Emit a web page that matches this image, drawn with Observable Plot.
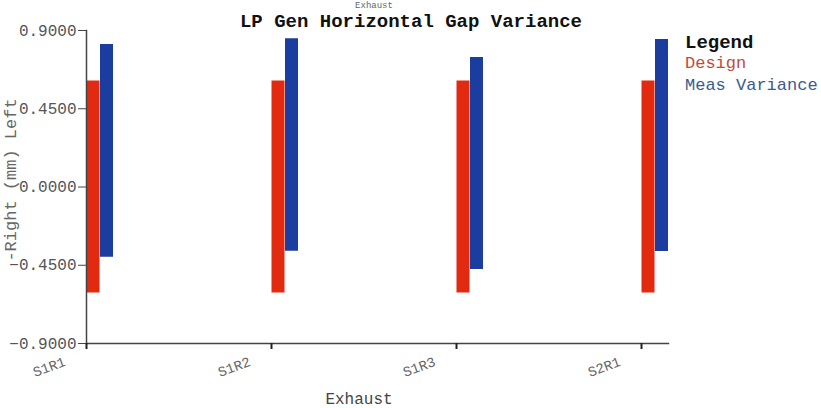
<!DOCTYPE html>
<html>
<head>
<meta charset="utf-8">
<script src="https://cdn.jsdelivr.net/npm/d3@7"></script>
<script src="https://cdn.jsdelivr.net/npm/@observablehq/plot@0.6"></script>
<style>
  html, body { margin: 0; padding: 0; background: #ffffff; }
  #chart { width: 821px; height: 408px; overflow: hidden; }
</style>
</head>
<body>
<div id="chart"></div>
<script>
const categories = ["S1R1", "S1R2", "S1R3", "S2R1"];
const designLow  = [-0.61, -0.61, -0.61, -0.61];
const designHigh = [0.61, 0.61, 0.61, 0.61];
const measLow    = [-0.404, -0.369, -0.474, -0.371];
const measHigh   = [0.819, 0.852, 0.745, 0.848];
const yTicks = [-0.9, -0.45, 0, 0.45, 0.9];
const seriesNames = ["Design", "Meas Variance"];
const seriesColors = ["#e22a10", "#1b3da0"];
const legendColors = ["#c24a3c", "#3a5a90"];

const designData = categories.map((c, i) => ({cat: c, lo: designLow[i], hi: designHigh[i]}));
const measData = categories.map((c, i) => ({cat: c, lo: measLow[i], hi: measHigh[i]}));

const font = "'Liberation Mono', 'DejaVu Sans Mono', monospace";

const plot = Plot.plot({
  width: 821,
  height: 408,
  marginLeft: 86,
  marginRight: 153,
  marginTop: 30,
  marginBottom: 65,
  style: {fontFamily: font, background: "#ffffff"},
  x: {type: "point", domain: categories, range: [86, 641], padding: 0, axis: null},
  y: {domain: [-0.9, 0.9], axis: null},
  marks: [
    Plot.ruleX(designData, {x: "cat", y1: "lo", y2: "hi", stroke: seriesColors[0], strokeWidth: 13, dx: 6.5}),
    Plot.ruleX(measData, {x: "cat", y1: "lo", y2: "hi", stroke: seriesColors[1], strokeWidth: 13, dx: 20}),
    Plot.frame({anchor: "left", stroke: "#444", strokeWidth: 1.5}),
    Plot.frame({anchor: "bottom", stroke: "#444", strokeWidth: 1.5}),
    Plot.axisY({ticks: yTicks, tickFormat: d3.format(".4f"), tickSize: 8, tickPadding: 2,
      fontSize: 16, fill: "#555", stroke: "#444", label: null}),
    Plot.axisX({tickSize: 6, tickFormat: () => "", stroke: "#222", strokeWidth: 2, label: null}),
    Plot.text(categories, {x: d => d, frameAnchor: "bottom", text: d => d, rotate: -20,
      textAnchor: "end", dx: -20, dy: 22, fontSize: 14, fill: "#666"})
  ]
});

document.getElementById("chart").appendChild(plot);

const svg = d3.select(plot);
function addText(t, x, y, opts) {
  const el = svg.append("text")
    .attr("x", x).attr("y", y)
    .attr("font-family", font)
    .attr("font-size", opts.size)
    .attr("fill", opts.fill || "#000")
    .attr("text-anchor", opts.anchor || "start")
    .attr("font-weight", opts.bold ? "bold" : "normal")
    .text(t);
  if (opts.rotate) el.attr("transform", `rotate(${opts.rotate},${x},${y})`);
  if (opts.baseline) el.attr("dominant-baseline", opts.baseline);
  return el;
}
addText("Exhaust", 374, 8, {size: 9, anchor: "middle", fill: "#666"});
addText("LP Gen Horizontal Gap Variance", 411, 27, {size: 19, anchor: "middle", bold: true, fill: "#111"});
addText("Exhaust", 359, 404, {size: 16, anchor: "middle", fill: "#444"});
addText("-Right (mm) Left", 11, 180, {size: 17, anchor: "middle", fill: "#666", rotate: -90, baseline: "central"});
addText("Legend", 685, 48, {size: 19, bold: true, fill: "#111"});
addText(seriesNames[0], 685, 68, {size: 17, fill: legendColors[0]});
addText(seriesNames[1], 685, 90, {size: 17, fill: legendColors[1]});
</script>
</body>
</html>
